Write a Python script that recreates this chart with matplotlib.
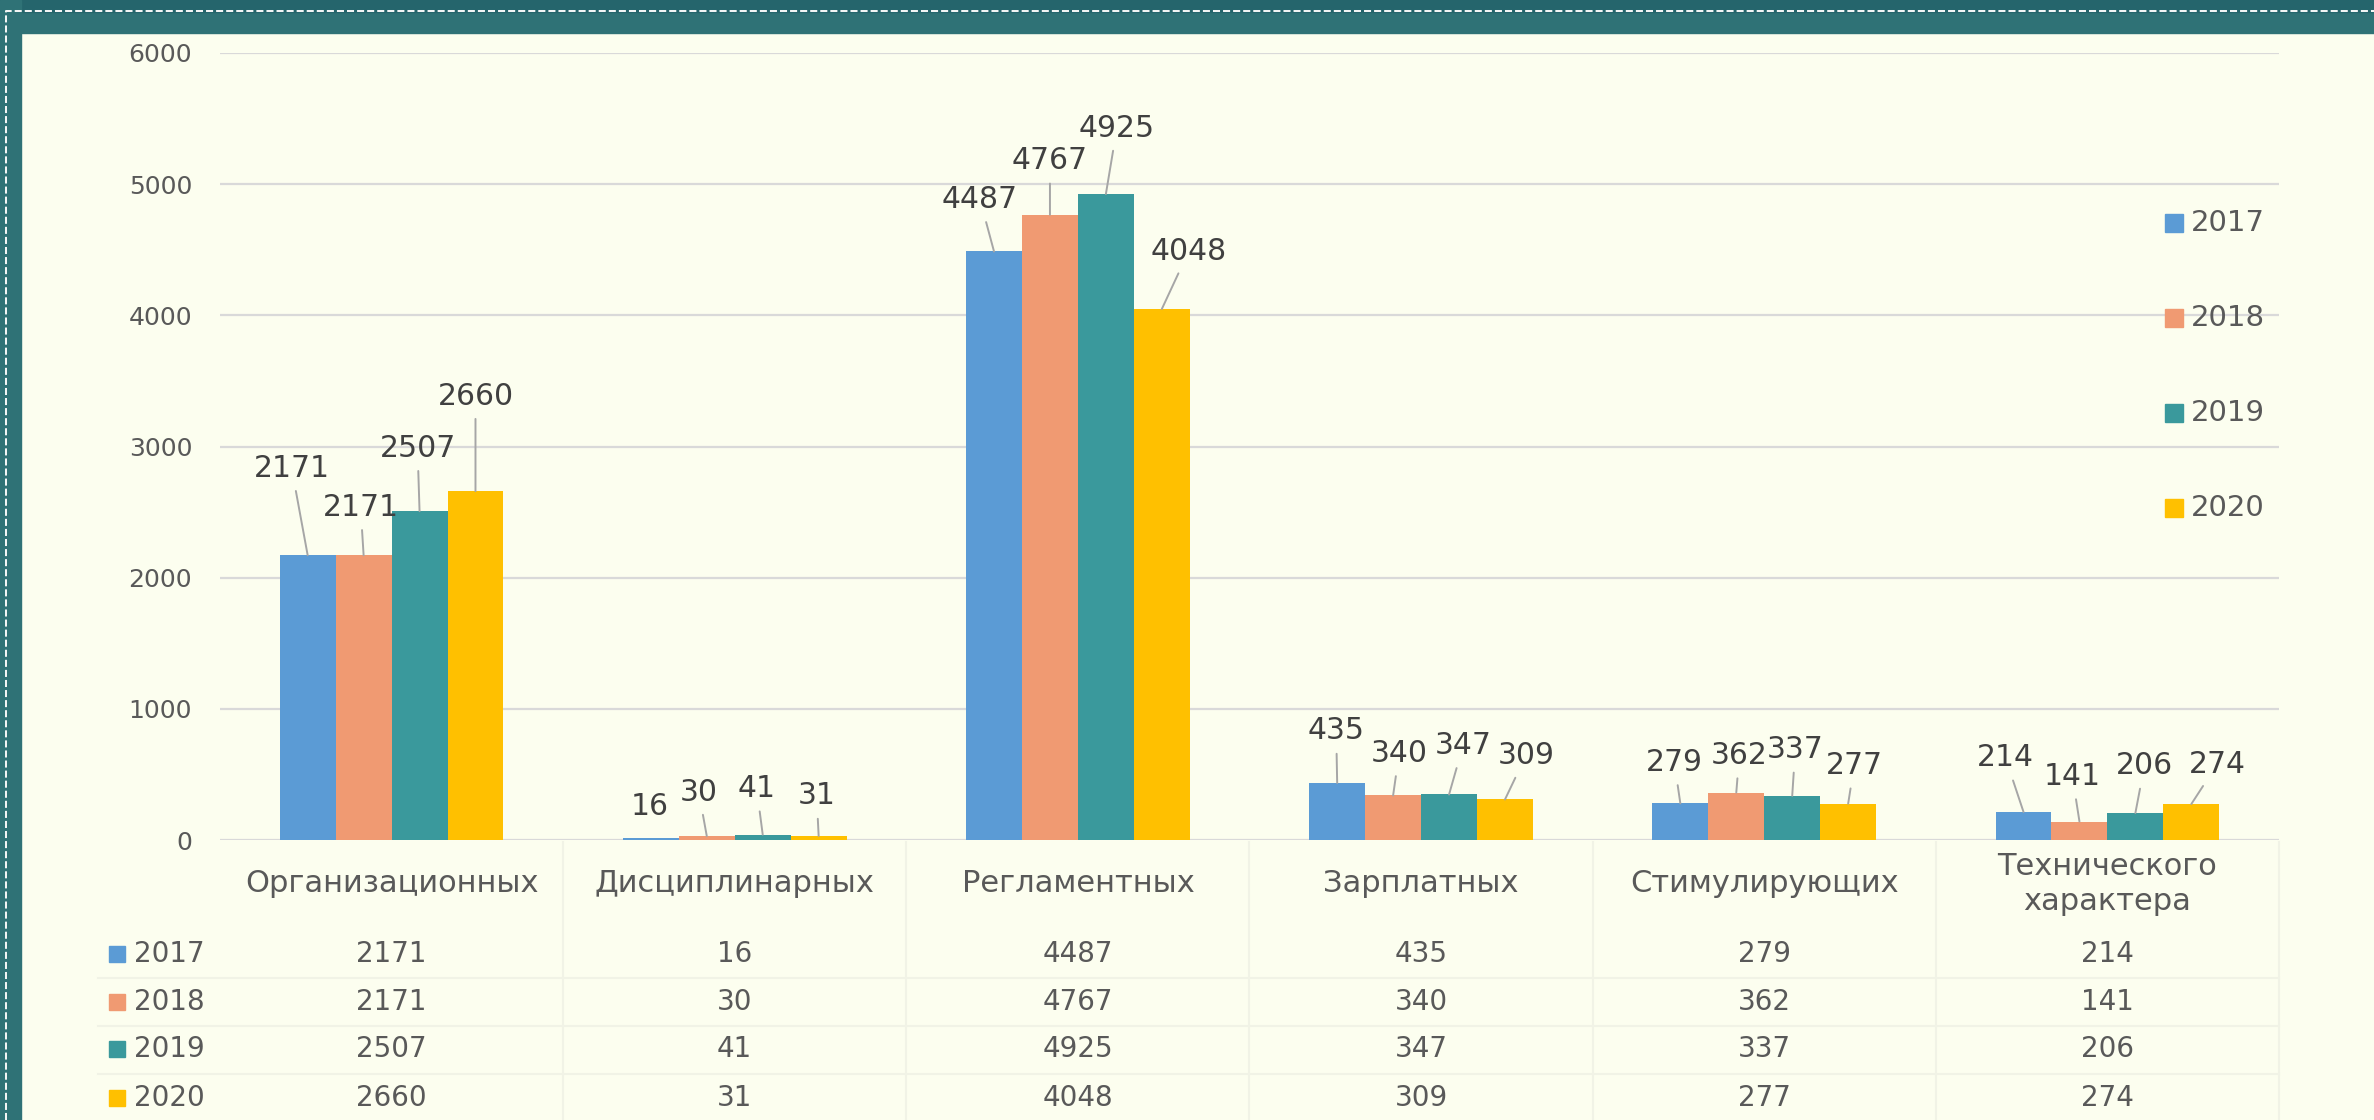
import matplotlib
matplotlib.use("Agg")
import matplotlib.pyplot as plt
import matplotlib.transforms as mtransforms
from matplotlib.patches import Rectangle
from matplotlib.lines import Line2D
import numpy as np

# данные
categories = ["Организационных", "Дисциплинарных", "Регламентных",
              "Зарплатных", "Стимулирующих", "Технического\nхарактера"]
years = ["2017", "2018", "2019", "2020"]
v2017 = [2171, 16, 4487, 435, 279, 214]
v2018 = [2171, 30, 4767, 340, 362, 141]
v2019 = [2507, 41, 4925, 347, 337, 206]
v2020 = [2660, 31, 4048, 309, 277, 274]
series = [v2017, v2018, v2019, v2020]
colors = ["#5B9BD5", "#F09A72", "#3A999C", "#FFC000"]

# смещения подписей (пиксели) от верха столбца
label_off = [
    [(-16, 87), (-3, 48), (-2, 63), (0, 95)],
    [(-1, 31), (-8, 44), (-6, 46), (-2, 40)],
    [(-14, 52), (0, 54), (11, 66), (27, 58)],
    [(-1, 52), (6, 42), (14, 49), (21, 44)],
    [(-6, 41), (3, 37), (3, 46), (6, 38)],
    [(-18, 54), (-7, 45), (9, 47), (26, 40)],
]

W, H = 2374, 1120
bg = "#FCFEEF"
teal = "#2F7276"
txt = "#595959"
dark = "#404040"
plt.rcParams['font.family'] = ['DejaVu Sans']

fig = plt.figure(figsize=(W / 100, H / 100), dpi=100, facecolor=bg)
ax = fig.add_axes([220 / W, 1 - 840 / H, (2279 - 220) / W, (840 - 53) / H])
ax.set_facecolor(bg)

x = np.arange(len(categories))
bw = 0.163
for i, s in enumerate(series):
    ax.bar(x + (i - 1.5) * bw, s, bw, color=colors[i], zorder=3, linewidth=0)

ax.set_xlim(-0.5, len(categories) - 0.5)
ax.set_ylim(0, 6000)
ax.set_yticks(range(0, 6001, 1000))
ax.tick_params(axis='y', length=0, pad=20, labelsize=18, labelcolor=txt)
ax.set_xticks([])
ax.grid(axis='y', color="#D9D9D9", lw=1.6, zorder=0)
for sp in ax.spines.values():
    sp.set_visible(False)

# подписи данных с выносками
for i, s in enumerate(series):
    for j, v in enumerate(s):
        dx, dy = label_off[j][i]
        draw_line = dy > 33
        ax.annotate(str(v), xy=(x[j] + (i - 1.5) * bw, v), xytext=(dx, dy),
                    textcoords='offset pixels', ha='center', va='center',
                    fontsize=21.5, color=dark, zorder=5,
                    arrowprops=dict(arrowstyle='-', color="#A6A6A6", lw=1.4,
                                    shrinkA=4, shrinkB=0) if draw_line else None)

# легенда справа
leg_y = [223, 318, 413, 508]
for i, yr in enumerate(years):
    fig.patches.append(Rectangle((2165 / W, 1 - (leg_y[i] + 9) / H), 18 / W, 18 / H,
                                 transform=fig.transFigure, color=colors[i]))
    fig.text(2191 / W, 1 - leg_y[i] / H, yr, fontsize=21, color=txt, va='center', ha='left')

# таблица данных
bt = mtransforms.blended_transform_factory(ax.transData, fig.transFigure)
for j, c in enumerate(categories):
    fig.text(x[j], 1 - 884 / H, c, transform=bt, ha='center', va='center',
             fontsize=22, color=txt, linespacing=1.3)

row_y = [954, 1002, 1049, 1098]
for i, s in enumerate(series):
    fig.patches.append(Rectangle((109 / W, 1 - (row_y[i] + 8) / H), 16 / W, 16 / H,
                                 transform=fig.transFigure, color=colors[i]))
    fig.text(134 / W, 1 - row_y[i] / H, years[i], fontsize=20, color=txt, va='center', ha='left')
    for j, v in enumerate(s):
        fig.text(x[j], 1 - row_y[i] / H, str(v), transform=bt, ha='center', va='center',
                 fontsize=20, color=txt)

for yl in [978, 1026, 1074]:
    fig.add_artist(Line2D([98 / W, 2279 / W], [1 - yl / H, 1 - yl / H],
                          transform=fig.transFigure, color="#F1F3E6", lw=1.5))
for xb in np.arange(0.5, len(categories), 1.0):
    fig.add_artist(Line2D([xb, xb], [0, 1 - 842 / H], transform=bt, color="#F1F3E6", lw=1.5))

# рамка
fig.patches.append(Rectangle((0, 1 - 33 / H), 1, 33 / H, transform=fig.transFigure,
                             color=teal, zorder=0))
fig.patches.append(Rectangle((0, 1 - 12 / H), 1, 12 / H, transform=fig.transFigure,
                             color="#25656C", zorder=0))
fig.patches.append(Rectangle((0, 0), 21 / W, 1, transform=fig.transFigure,
                             color=teal, zorder=0))
fig.add_artist(Line2D([6 / W, 6 / W, 1], [0, 1 - 10.5 / H, 1 - 10.5 / H],
                      transform=fig.transFigure, color="#F2F5F5", lw=1.45,
                      linestyle=(0, (3.5, 1.5))))

fig.savefig("out.png", dpi=100, facecolor=bg)
